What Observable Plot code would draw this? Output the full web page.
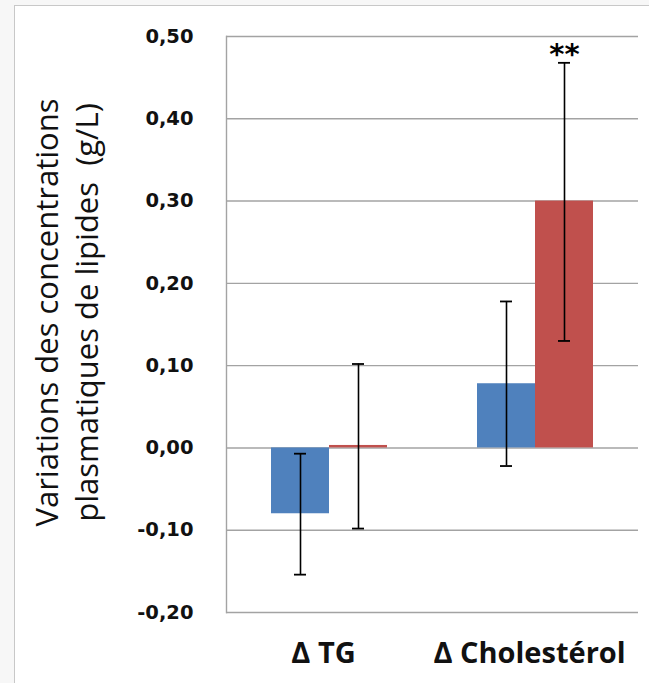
<!DOCTYPE html>
<html><head><meta charset="utf-8">
<script src="https://cdn.jsdelivr.net/npm/d3@7"></script>
<script src="https://cdn.jsdelivr.net/npm/@observablehq/plot@0.6"></script>
<style>
html,body{margin:0;padding:0;background:#f7f7f7;}
#wrap{position:relative;width:649px;height:683px;overflow:hidden;}
#frame{position:absolute;left:14px;top:5px;width:700px;height:700px;background:#fff;border-left:1.5px solid #c8c8c8;border-top:1.5px solid #c8c8c8;}
#chart{position:absolute;left:0;top:0;}
</style></head><body>
<div id="wrap"><div id="frame"></div><div id="chart"></div></div>
<script>
const categories = ["Δ TG", "Δ Cholestérol"];
const series = ["A", "B"];
const meansA = [-0.080, 0.078];
const meansB = [0.003, 0.300];
const lowA = [-0.154, -0.022];
const highA = [-0.007, 0.178];
const lowB = [-0.098, 0.130];
const highB = [0.102, 0.468];
const sigA = ["", ""];
const sigB = ["", "**"];
const yTicks = [-0.2, -0.1, 0, 0.1, 0.2, 0.3, 0.4, 0.5];
const yLabel = "Variations des concentrations\nplasmatiques de lipides  (g/L)";

const rows = [];
categories.forEach((c, i) => {
  rows.push({cat: c, series: "A", mean: meansA[i], lo: lowA[i], hi: highA[i], sig: sigA[i]});
  rows.push({cat: c, series: "B", mean: meansB[i], lo: lowB[i], hi: highB[i], sig: sigB[i]});
});

const fmt = d => d.toFixed(2).replace(".", ",");

const plot = Plot.plot({
  width: 649, height: 683,
  marginLeft: 225, marginRight: 11, marginTop: 36, marginBottom: 71,
  style: {background: "transparent", overflow: "visible"},
  fx: {domain: categories, padding: 0, label: null, axis: null},
  x: {domain: series, paddingInner: 0, paddingOuter: 0.75, axis: null},
  y: {domain: [-0.2, 0.5], axis: null},
  color: {domain: series, range: ["#4f81bd", "#c0504d"]},
  marks: [
    Plot.gridY(yTicks, {stroke: "#a3a3a3", strokeOpacity: 1, strokeWidth: 1.4}),
    Plot.frame({anchor: "left", facetAnchor: "left", stroke: "#a3a3a3", strokeWidth: 1.4}),
    Plot.barY(rows, {fx: "cat", x: "series", y: "mean", fill: "series"}),
    Plot.ruleX(rows, {fx: "cat", x: "series", y1: "lo", y2: "hi", stroke: "black", strokeWidth: 1.6}),
    Plot.tickY(rows, {fx: "cat", x: "series", y: "lo", stroke: "black", strokeWidth: 1.8, insetLeft: 23, insetRight: 23}),
    Plot.tickY(rows, {fx: "cat", x: "series", y: "hi", stroke: "black", strokeWidth: 1.8, insetLeft: 23, insetRight: 23}),
    Plot.text(rows, {fx: "cat", x: "series", y: "hi", text: "sig", dy: -8, fontSize: 29, fontWeight: "bold", fontFamily: "DejaVu Sans", fill: "black", lineAnchor: "middle"}),
    Plot.axisY(yTicks, {tickFormat: fmt, tickSize: 0, tickPadding: 33, fontSize: 19.5, fontWeight: "bold", fontFamily: "DejaVu Sans", fill: "#111", label: null}),
    Plot.axisFx({anchor: "bottom", tickSize: 0, tickPadding: 30, dx: -6, fontSize: 29, fontWeight: "bold", fontFamily: "Open Sans", fill: "#111", label: null}),
    Plot.text([yLabel], {frameAnchor: "left", facetAnchor: "left", rotate: -90, dx: -161, dy: -12, fontSize: 31, fontFamily: "Open Sans", lineHeight: 1.26, fill: "#111", textAnchor: "middle", lineAnchor: "middle"})
  ]
});
document.getElementById("chart").appendChild(plot);
</script>
</body></html>
